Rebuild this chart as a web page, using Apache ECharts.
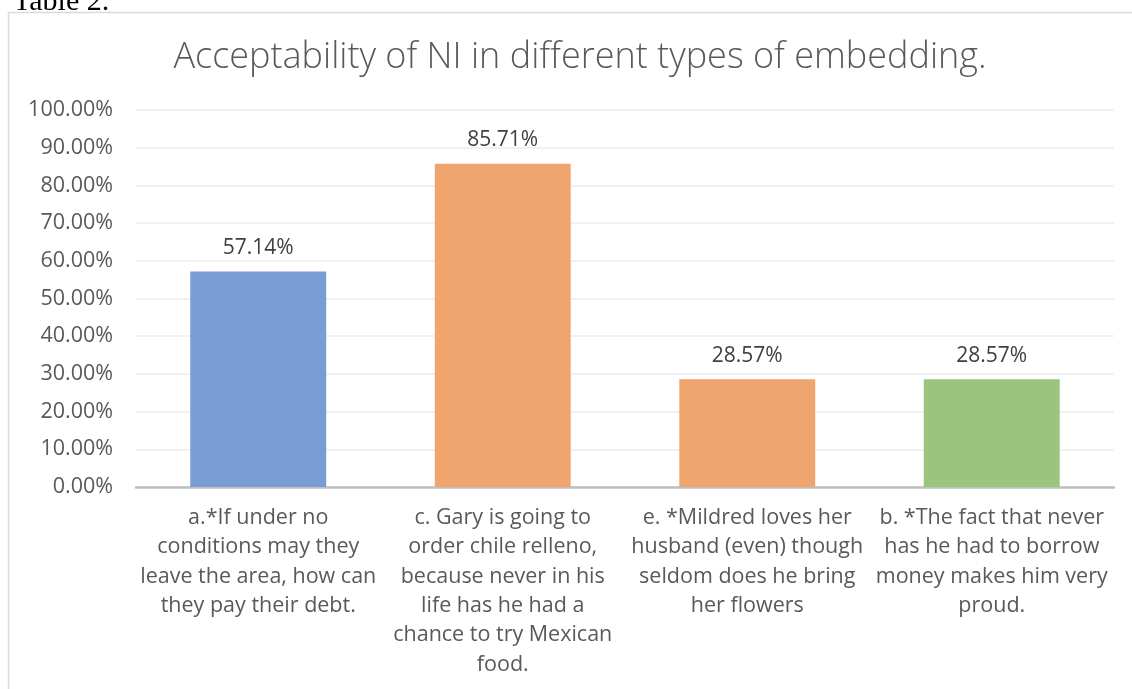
<!DOCTYPE html>
<html>
<head>
<meta charset="utf-8">
<script src="https://cdn.jsdelivr.net/npm/echarts@6/dist/echarts.min.js"></script>
<style>
html, body { margin: 0; padding: 0; background: #fff; }
#chart { width: 1132px; height: 689px; }
</style>
</head>
<body>
<div id="chart"></div>
<script>
var categories = [
	'a.*If under no\nconditions may they\nleave the area, how can\nthey pay their debt.',
	'c. Gary is going to\norder chile relleno,\nbecause never in his\nlife has he had a\nchance to try Mexican\nfood.',
	'e. *Mildred loves her\nhusband (even) though\nseldom does he bring\nher flowers',
	'b. *The fact that never\nhas he had to borrow\nmoney makes him very\nproud.'
];
var values = [57.14, 85.71, 28.57, 28.57];
var barColors = ['#7a9cd5', '#f1a56e', '#f1a56e', '#9bc47d'];

var myChart = echarts.init(document.getElementById('chart'));
var option = {
	backgroundColor: '#fff',
	animation: false,
	title: {
		text: 'Acceptability of NI in different types of embedding.',
		left: 575,
		textAlign: 'center',
		top: 35,
		textStyle: {
			fontFamily: 'Open Sans',
			fontWeight: 300,
			fontSize: 36,
			color: '#595959'
		}
	},
	graphic: [
		{
			type: 'rect',
			shape: { x: 8.5, y: 12.5, width: 1200, height: 800 },
			style: { fill: 'none', stroke: '#d9d9d9', lineWidth: 1.5 },
			silent: true
		},
		{
			type: 'text',
			left: 13,
			top: -13,
			style: {
				text: 'Table 2.',
				font: '30px "Liberation Serif"',
				fill: '#000'
			}
		}
	],
	grid: {
		left: 136,
		right: 18,
		top: 110,
		bottom: 202,
		containLabel: false
	},
	xAxis: {
		type: 'category',
		data: categories,
		axisTick: { show: false },
		axisLine: { lineStyle: { color: '#bfbfbf', width: 2.5 } },
		axisLabel: {
			interval: 0,
			margin: 16,
			fontFamily: 'Open Sans',
			fontSize: 21.5,
			lineHeight: 29.4,
			color: '#595959',
			align: 'center'
		}
	},
	yAxis: {
		type: 'value',
		min: 0,
		max: 100,
		interval: 10,
		axisLine: { show: false },
		axisTick: { show: false },
		splitLine: { lineStyle: { color: '#ececec', width: 1.5 } },
		axisLabel: {
			margin: 23,
			fontFamily: 'Open Sans',
			fontSize: 21.5,
			color: '#595959',
			formatter: function(v) { return v.toFixed(2) + '%'; }
		}
	},
	series: [
		{
			type: 'bar',
			barWidth: '55.6%',
			data: values.map(function(v, i) {
				return { value: v, itemStyle: { color: barColors[i] } };
			}),
			label: {
				show: true,
				position: 'top',
				distance: 13,
				fontFamily: 'Open Sans',
				fontSize: 21,
				color: '#404040',
				formatter: function(p) { return p.value.toFixed(2) + '%'; }
			}
		}
	]
};
myChart.setOption(option);
</script>
</body>
</html>
